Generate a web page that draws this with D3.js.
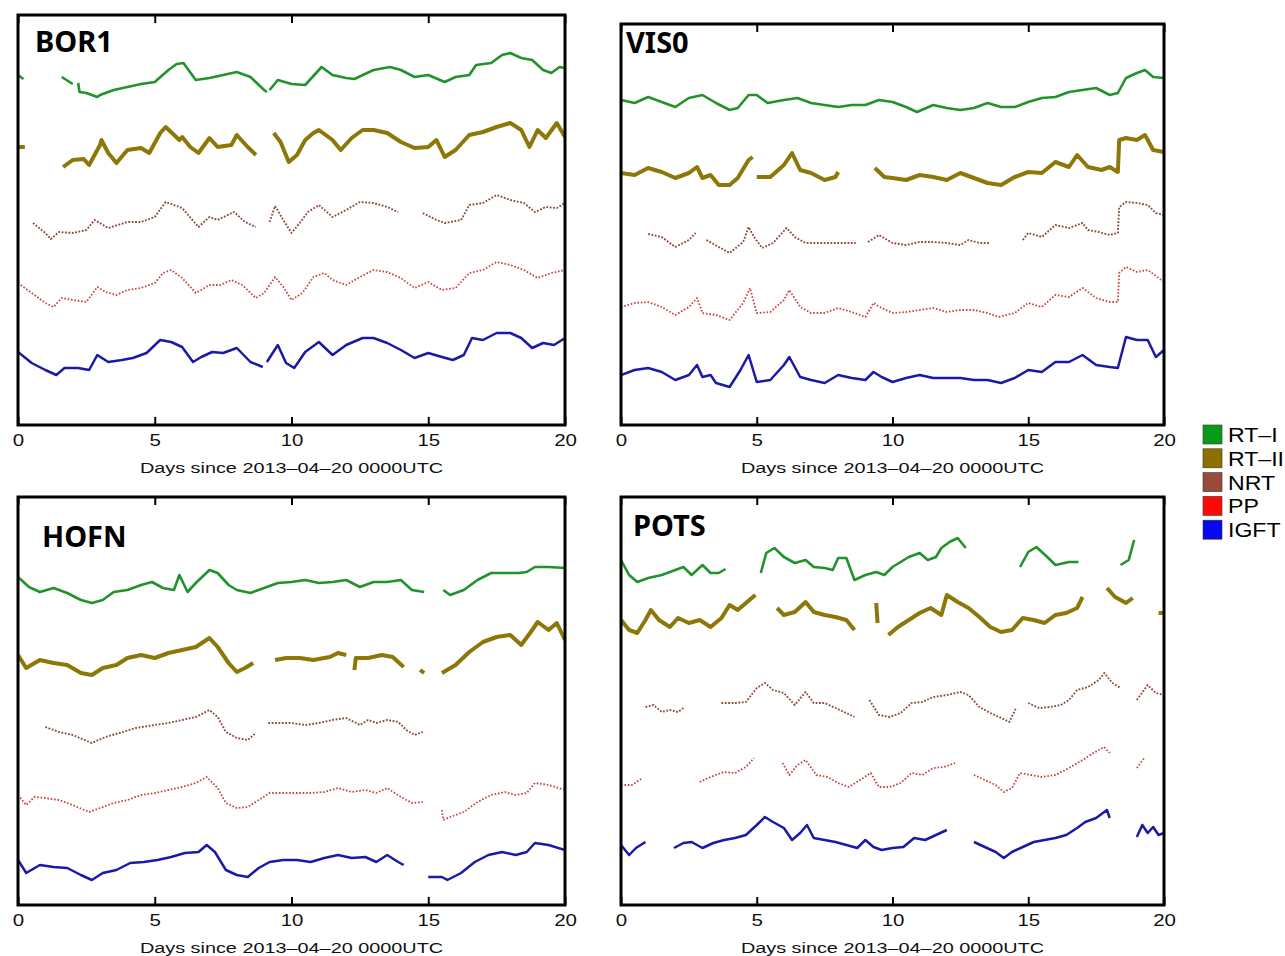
<!DOCTYPE html>
<html>
<head>
<meta charset="utf-8">
<script src="https://cdn.jsdelivr.net/npm/d3@7"></script>
<style>
  body { margin: 0; background: #fff; }
  svg { display: block; }
</style>
</head>
<body>
<div id="chart"></div>
<script>
// x tick labels (days) and product names
const dayTicks = [0, 5, 10, 15, 20];
const products = ["RT–I", "RT–II", "NRT", "PP", "IGFT"];
const stations = ["BOR1", "VIS0", "HOFN", "POTS"];

// each series: [day, stacked ZTD level], null = no data
const bor1RT1 = [[0,350],[0.2,346],[0.3,null],[1.6,348],[2.0,341],[2.1,null],[2.2,342],[2.25,333],[2.5,332],[2.9,328],[3.0,330],[3.5,335],[4.0,338],[4.5,341],[5.0,343],[5.5,355],[5.8,361],[6.05,362],[6.5,345],[7.0,347],[7.5,350],[8.0,353],[8.5,348],[9.0,335],[9.1,333],[9.15,null],[9.2,335],[9.5,345],[10.0,341],[10.5,340],[11.1,358],[11.5,350],[12.0,347],[12.3,346],[13.0,355],[13.6,358],[14.0,355],[14.5,348],[15.0,350],[15.6,343],[16.0,348],[16.5,350],[16.75,360],[17.3,362],[17.7,370],[18.0,372],[18.4,367],[18.8,365],[19.2,355],[19.5,352],[19.8,358],[20,357]];
const bor1RT2 = [[0,278],[0.25,278],[0.3,null],[1.65,258],[2.0,265],[2.4,266],[2.6,260],[3.0,280],[3.05,285],[3.3,272],[3.6,262],[4.0,275],[4.5,277],[4.8,272],[5.2,292],[5.4,298],[5.9,285],[6.0,288],[6.3,278],[6.6,272],[7.0,287],[7.3,278],[7.8,280],[8.0,290],[8.4,278],[8.7,270],[8.8,null],[9.35,292],[9.6,283],[9.9,263],[10.2,270],[10.5,285],[10.8,292],[11.0,295],[11.5,285],[11.8,275],[12.2,287],[12.6,295],[13.0,295],[13.5,292],[14.0,283],[14.5,277],[15.0,278],[15.3,285],[15.6,268],[16.0,275],[16.5,290],[17.0,293],[17.5,298],[18.0,302],[18.4,295],[18.7,278],[19.0,295],[19.3,287],[19.7,302],[20,288]];
const bor1NRT = [[0.55,202],[1.0,192],[1.2,186],[1.5,193],[2.0,192],[2.5,195],[2.8,205],[3.3,197],[4.0,203],[4.5,203],[5.0,208],[5.4,223],[6.0,217],[6.6,198],[7.0,208],[7.3,205],[7.9,213],[8.3,203],[8.7,198],[8.8,null],[9.2,203],[9.4,219],[9.7,205],[10.0,192],[10.3,202],[10.6,213],[11.0,220],[11.5,208],[12.0,215],[12.5,223],[13.0,222],[13.5,218],[13.9,213],[14.0,null],[14.3,205],[14.35,null],[14.8,212],[15.3,205],[15.6,202],[16.2,205],[16.5,220],[17.0,222],[17.5,230],[18.0,225],[18.5,222],[18.9,213],[19.3,218],[19.7,217],[20,222]];
const bor1PP = [[0,142],[0.5,132],[1.0,122],[1.3,118],[1.6,127],[2.0,125],[2.5,123],[2.9,138],[3.2,133],[3.6,130],[4.0,135],[4.5,137],[5.0,142],[5.3,152],[5.6,155],[6.0,147],[6.5,132],[7.0,140],[7.4,140],[7.8,145],[8.2,140],[8.7,127],[9.0,132],[9.4,148],[9.7,138],[10.0,125],[10.4,132],[10.8,148],[11.2,152],[11.5,145],[12.0,140],[12.5,148],[13.0,155],[13.5,153],[14.0,147],[14.5,137],[15.0,143],[15.5,135],[16.0,137],[16.5,152],[17.0,155],[17.5,163],[18.0,160],[18.5,155],[19.0,147],[19.5,152],[20,155]];
const bor1IGFT = [[0,73],[0.5,62],[1.0,55],[1.4,50],[1.7,57],[2.2,57],[2.6,55],[2.9,70],[3.3,63],[3.8,65],[4.2,67],[4.7,72],[5.2,85],[5.6,83],[6.0,78],[6.4,63],[6.7,68],[7.1,73],[7.5,72],[8.0,77],[8.5,63],[8.95,58],[9.0,null],[9.1,63],[9.5,80],[9.8,62],[10.1,57],[10.5,73],[11.0,83],[11.5,70],[12.0,80],[12.6,87],[13.0,87],[13.5,82],[14.0,75],[14.5,67],[15.0,72],[15.5,68],[15.9,65],[16.3,70],[16.6,87],[17.0,85],[17.5,92],[18.0,92],[18.4,87],[18.8,77],[19.2,82],[19.6,80],[20,87]];

const vis0RT1 = [[0,325],[0.5,322],[1.0,328],[1.5,323],[2.0,318],[2.5,327],[3.0,330],[3.5,322],[4.0,315],[4.3,317],[4.7,330],[5.0,330],[5.4,322],[6.0,325],[6.5,327],[7.0,322],[7.5,320],[8.0,318],[8.5,320],[9.0,320],[9.5,325],[10.0,323],[10.5,318],[10.9,313],[11.5,320],[12.0,317],[12.5,315],[13.0,317],[13.5,322],[14.0,318],[14.5,318],[15.0,323],[15.5,327],[16.0,328],[16.5,333],[17.0,335],[17.5,337],[18.0,330],[18.3,332],[18.6,347],[19.0,352],[19.3,355],[19.6,348],[20,347]];
const vis0RT2 = [[0,252],[0.5,250],[1.0,257],[1.5,253],[2.0,247],[2.5,252],[2.8,258],[3.0,247],[3.3,250],[3.6,240],[4.0,240],[4.3,247],[4.7,265],[4.85,268],[4.9,null],[5.0,248],[5.5,248],[6.0,260],[6.3,272],[6.6,255],[7.0,252],[7.5,245],[7.9,248],[8.0,253],[8.05,null],[9.35,257],[9.7,248],[10.0,247],[10.5,245],[11.0,250],[11.5,248],[12.0,245],[12.5,252],[13.0,247],[13.5,242],[14.0,240],[14.5,248],[15.0,253],[15.5,252],[16.0,263],[16.5,258],[16.8,270],[17.2,258],[17.7,255],[18.0,258],[18.3,253],[18.35,285],[18.6,287],[19.0,285],[19.3,290],[19.6,275],[20,273]];
const vis0NRT = [[1.0,191],[1.5,188],[2.0,178],[2.5,185],[2.75,192],[2.8,null],[3.15,185],[3.6,178],[4.0,172],[4.5,183],[4.7,198],[4.9,188],[5.2,177],[5.6,182],[6.1,197],[6.4,188],[6.8,182],[7.3,182],[7.8,182],[8.3,182],[8.65,182],[8.7,null],[9.1,183],[9.5,190],[10.0,182],[10.5,180],[11.0,183],[11.5,183],[12.0,182],[12.5,180],[12.8,185],[13.2,182],[13.6,182],[13.7,null],[13.8,175],[13.85,null],[14.3,182],[14.35,null],[14.8,185],[15.0,192],[15.5,188],[16.0,200],[16.5,197],[17.0,202],[17.2,195],[17.6,193],[18.0,190],[18.3,192],[18.35,218],[18.6,223],[19.0,222],[19.4,220],[19.7,212],[20,210]];
const vis0PP = [[0,118],[0.5,122],[1.0,123],[1.5,118],[2.0,110],[2.5,118],[2.8,127],[3.0,112],[3.5,110],[4.0,105],[4.5,122],[4.75,137],[5.0,112],[5.5,113],[6.0,125],[6.2,135],[6.6,118],[7.0,112],[7.5,112],[8.0,117],[8.5,113],[9.0,108],[9.3,122],[9.6,117],[10.0,112],[10.5,113],[11.0,115],[11.5,117],[12.0,113],[12.5,115],[13.0,115],[13.5,112],[13.9,108],[14.5,112],[15.0,122],[15.5,118],[16.0,130],[16.5,128],[17.0,137],[17.5,127],[18.0,123],[18.3,123],[18.35,152],[18.6,158],[19.0,153],[19.4,155],[20,143]];
const vis0IGFT = [[0,50],[0.5,55],[1.0,57],[1.5,53],[2.0,45],[2.5,50],[2.8,60],[3.0,48],[3.3,50],[3.5,42],[4.0,38],[4.4,55],[4.7,70],[5.0,43],[5.5,45],[6.0,60],[6.2,68],[6.6,48],[7.0,45],[7.5,42],[8.0,50],[8.5,47],[9.0,45],[9.3,53],[9.6,48],[10.0,43],[10.5,47],[11.0,50],[11.5,47],[12.0,47],[12.5,47],[13.0,45],[13.5,45],[14.0,42],[14.5,47],[15.0,55],[15.5,53],[16.0,63],[16.5,63],[17.0,70],[17.5,60],[18.0,58],[18.3,57],[18.6,88],[19.0,85],[19.4,85],[19.7,68],[20,75]];

const hofnRT1 = [[0,328],[0.4,318],[0.8,313],[1.3,317],[1.8,312],[2.3,305],[2.7,302],[3.1,305],[3.5,313],[4.0,315],[4.5,320],[4.9,323],[5.3,317],[5.7,315],[5.9,330],[6.2,313],[6.5,322],[7.0,335],[7.3,332],[7.7,320],[8.0,315],[8.5,312],[9.0,317],[9.5,322],[10.0,323],[10.5,325],[11.0,322],[11.5,323],[12.0,325],[12.5,318],[13.0,323],[13.5,323],[14.0,325],[14.4,315],[14.85,313],[14.9,null],[15.55,315],[15.8,310],[16.3,315],[16.8,325],[17.3,332],[17.8,332],[18.3,332],[18.6,333],[18.9,338],[19.4,338],[20,337]];
const hofnRT2 = [[0,250],[0.3,237],[0.8,245],[1.3,242],[1.8,240],[2.3,232],[2.7,230],[3.1,237],[3.6,240],[4.0,247],[4.5,250],[5.0,247],[5.5,252],[6.0,255],[6.5,258],[7.0,267],[7.3,258],[7.7,242],[8.0,233],[8.3,237],[8.6,242],[8.65,null],[9.4,245],[9.8,247],[10.3,247],[10.8,245],[11.4,248],[11.7,252],[12.0,250],[12.1,null],[12.3,235],[12.35,247],[12.8,247],[13.3,250],[13.7,248],[14.1,238],[14.15,null],[14.7,235],[14.85,232],[14.9,null],[15.5,232],[16.0,240],[16.5,253],[17.0,263],[17.5,268],[18.0,270],[18.4,260],[18.8,275],[19.0,283],[19.4,275],[19.7,282],[20,265]];
const hofnNRT = [[1.0,178],[1.5,173],[2.0,170],[2.7,162],[3.2,168],[3.7,172],[4.3,177],[5.0,180],[5.5,182],[6.0,185],[6.5,188],[7.0,195],[7.3,188],[7.6,173],[8.0,167],[8.4,165],[8.7,172],[8.75,null],[9.15,182],[9.6,182],[10.0,182],[10.5,180],[11.0,182],[11.5,185],[12.0,187],[12.5,180],[12.8,185],[13.1,182],[13.5,185],[13.9,183],[14.2,175],[14.5,170],[14.8,173]];
const hofnPP = [[0,110],[0.3,100],[0.6,108],[1.0,107],[1.5,105],[2.0,100],[2.6,93],[3.0,97],[3.5,102],[4.0,105],[4.5,110],[5.0,112],[5.5,115],[6.0,118],[6.5,122],[6.9,128],[7.3,117],[7.6,102],[8.0,97],[8.4,98],[8.8,105],[9.2,112],[9.7,112],[10.2,112],[10.7,112],[11.2,113],[11.7,117],[12.2,113],[12.7,115],[13.1,112],[13.5,117],[14.0,108],[14.4,102],[14.8,103],[14.85,null],[15.5,95],[15.55,85],[15.8,88],[16.3,93],[16.8,103],[17.3,110],[17.8,113],[18.2,110],[18.6,112],[18.9,122],[19.4,120],[20,115]];
const hofnIGFT = [[0,45],[0.3,32],[0.8,40],[1.3,38],[1.8,37],[2.3,30],[2.7,25],[3.1,32],[3.6,35],[4.1,42],[4.6,43],[5.1,45],[5.6,48],[6.1,52],[6.6,53],[6.9,60],[7.2,53],[7.6,35],[8.0,30],[8.4,28],[8.8,37],[9.2,43],[9.7,45],[10.2,45],[10.7,43],[11.2,47],[11.7,50],[12.2,47],[12.7,48],[13.1,43],[13.5,50],[13.9,43],[14.1,40],[14.15,null],[15.0,28],[15.5,28],[15.7,25],[16.2,32],[16.7,43],[17.2,50],[17.7,53],[18.2,50],[18.6,53],[18.9,62],[19.4,60],[20,55]];

const potsRT1 = [[0,345],[0.3,330],[0.6,323],[1.0,327],[1.5,330],[2.0,335],[2.3,338],[2.6,330],[3.0,340],[3.3,332],[3.6,332],[3.85,336],[3.9,null],[5.15,332],[5.35,352],[5.65,357],[6.0,348],[6.4,342],[6.8,345],[7.1,338],[7.5,337],[7.8,335],[8.0,347],[8.3,347],[8.6,325],[9.0,330],[9.4,333],[9.7,330],[10.0,338],[10.3,343],[10.6,348],[11.0,352],[11.3,345],[11.6,348],[11.8,357],[12.1,363],[12.4,367],[12.7,357],[12.75,null],[14.7,338],[15.0,353],[15.3,358],[15.7,348],[16.0,340],[16.5,343],[16.85,343],[16.9,null],[18.4,340],[18.7,345],[18.9,365]];
const potsRT2 = [[0,285],[0.3,275],[0.6,272],[0.9,285],[1.1,295],[1.4,285],[1.8,278],[2.1,287],[2.5,282],[2.9,285],[3.3,278],[3.7,287],[4.0,300],[4.3,295],[4.6,302],[4.95,310],[5.0,null],[5.75,297],[6.0,290],[6.4,293],[6.8,303],[7.1,293],[7.5,290],[7.9,288],[8.3,285],[8.6,275],[8.65,null],[9.4,302],[9.45,282],[9.5,null],[9.85,270],[10.2,278],[10.6,285],[11.0,292],[11.4,297],[11.8,290],[12.0,310],[12.4,303],[12.8,297],[13.2,288],[13.6,278],[14.0,273],[14.4,275],[14.8,287],[15.2,285],[15.6,282],[16.0,290],[16.4,292],[16.8,297],[17.0,308],[17.05,null],[17.9,317],[18.2,308],[18.6,302],[18.85,307],[18.9,null],[19.8,292],[20,292]];
const potsNRT = [[0.9,198],[1.2,200],[1.5,193],[1.8,195],[2.1,193],[2.3,197],[2.35,null],[3.7,202],[4.2,202],[4.6,203],[5.0,217],[5.3,222],[5.6,215],[6.0,212],[6.4,200],[6.8,213],[7.1,202],[7.5,202],[7.9,197],[8.3,192],[8.6,188],[8.65,null],[9.15,205],[9.5,190],[9.9,188],[10.3,192],[10.7,202],[11.1,203],[11.5,208],[12.0,210],[12.5,213],[12.8,210],[13.2,198],[13.6,192],[14.0,187],[14.3,183],[14.55,197],[14.6,null],[15.0,202],[15.4,197],[15.8,198],[16.2,200],[16.5,205],[16.8,215],[17.2,218],[17.6,225],[17.8,232],[18.1,222],[18.4,217],[18.45,null],[19.0,205],[19.4,220],[19.7,212],[20,210]];
const potsPP = [[0,120],[0.4,120],[0.8,127],[0.85,null],[2.0,128],[2.05,null],[2.9,123],[3.3,128],[3.8,133],[4.2,132],[4.6,138],[4.9,147],[4.95,null],[5.95,142],[6.2,130],[6.5,140],[6.8,145],[7.2,130],[7.6,128],[8.0,122],[8.4,118],[8.8,125],[9.2,132],[9.5,118],[9.9,118],[10.3,122],[10.7,132],[11.1,130],[11.5,137],[11.9,138],[12.3,142],[12.35,null],[13.0,130],[13.4,125],[13.8,120],[14.1,113],[14.4,117],[14.7,132],[15.1,130],[15.5,128],[16.0,130],[16.5,137],[17.0,145],[17.4,152],[17.8,158],[18.0,152],[18.05,null],[19.0,137],[19.3,148]];
const potsIGFT = [[0,60],[0.3,50],[0.55,57],[0.9,63],[0.95,null],[1.95,57],[2.3,62],[2.6,63],[3.0,57],[3.4,62],[3.8,65],[4.2,67],[4.6,70],[5.0,80],[5.3,88],[5.6,83],[6.0,77],[6.3,65],[6.6,72],[6.85,80],[7.1,67],[7.5,65],[7.9,63],[8.3,60],[8.7,57],[9.0,65],[9.3,58],[9.6,55],[10.0,57],[10.4,58],[10.8,67],[11.2,65],[11.6,70],[12.0,75],[12.05,null],[13.0,63],[13.4,58],[13.8,53],[14.1,47],[14.4,53],[14.8,58],[15.2,63],[15.6,65],[16.0,67],[16.4,70],[16.8,77],[17.1,83],[17.5,87],[17.9,95],[18.0,87],[18.05,null],[19.0,68],[19.2,80],[19.4,72],[19.6,78],[19.8,70],[20,72]];

// line looks per product
const colors = ["#22922a", "#8c7708", "#8e4a3c", "#c9413f", "#1a1aa6"];
const legendColors = ["#0a9a1a", "#8c7000", "#9a4a3c", "#ff0808", "#0808f0"];
const widths = [2.6, 4, 1.9, 1.8, 2.5];
const dashes = [null, null, "1.8 1.6", "1.6 1.8", null];

const panels = [
    { series: [bor1RT1, bor1RT2, bor1NRT, bor1PP, bor1IGFT], left: 18, right: 565, top: 15, bottom: 425, tx: 35, ty: 52 },
    { series: [vis0RT1, vis0RT2, vis0NRT, vis0PP, vis0IGFT], left: 621, right: 1164, top: 24, bottom: 425, tx: 626, ty: 53 },
    { series: [hofnRT1, hofnRT2, hofnNRT, hofnPP, hofnIGFT], left: 18, right: 565, top: 497, bottom: 905, tx: 42, ty: 547 },
    { series: [potsRT1, potsRT2, potsNRT, potsPP, potsIGFT], left: 621, right: 1164, top: 497, bottom: 905, tx: 633, ty: 536 }
];

const svg = d3.select("#chart")
    .append("svg")
        .attr("width", 1285)
        .attr("height", 956);

panels.forEach((p, i) => {

    const x = d3.scaleLinear()
        .domain([0, 20])
        .range([p.left, p.right]);

    const y = d3.scaleLinear()
        .domain([0, p.bottom - p.top])
        .range([p.bottom, p.top]);

    const g = svg.append("g");

    g.append("clipPath")
        .attr("id", `clip${i}`)
        .append("rect")
            .attr("x", p.left)
            .attr("y", p.top)
            .attr("width", p.right - p.left)
            .attr("height", p.bottom - p.top);

    const line = d3.line()
        .defined(d => d[1] != null)
        .x(d => x(d[0]))
        .y(d => y(d[1]));

    g.append("g")
        .attr("clip-path", `url(#clip${i})`)
        .selectAll("path")
        .data(p.series)
        .enter()
        .append("path")
            .attr("fill", "none")
            .attr("stroke", (d, k) => colors[k])
            .attr("stroke-width", (d, k) => widths[k])
            .attr("stroke-dasharray", (d, k) => dashes[k])
            .attr("stroke-linejoin", "round")
            .attr("d", line);

    // inward ticks, bottom with labels, top without
    const bottomAxis = g.append("g")
        .attr("transform", `translate(0,${p.bottom})`)
        .call(d3.axisBottom(x).tickValues(dayTicks).tickSize(-8).tickPadding(10));
    const topAxis = g.append("g")
        .attr("transform", `translate(0,${p.top})`)
        .call(d3.axisTop(x).tickValues(dayTicks).tickSize(-8).tickFormat(""));

    [bottomAxis, topAxis].forEach(a => {
        a.select(".domain").remove();
        a.selectAll("line").attr("stroke", "#000").attr("stroke-width", 2);
    });
    bottomAxis.selectAll("text")
        .attr("font-family", "Liberation Sans, Arial, sans-serif")
        .attr("font-size", 16)
        .attr("fill", "#111")
        .attr("transform", "scale(1.28,1)");

    g.append("rect")
        .attr("x", p.left)
        .attr("y", p.top)
        .attr("width", p.right - p.left)
        .attr("height", p.bottom - p.top)
        .attr("fill", "none")
        .attr("stroke", "#000")
        .attr("stroke-width", 3);

    g.append("text")
        .attr("transform", `translate(${(p.left + p.right) / 2},${p.bottom + 47.5}) scale(1.28,1)`)
        .attr("text-anchor", "middle")
        .attr("font-family", "Liberation Sans, Arial, sans-serif")
        .attr("font-size", 15.5)
        .attr("fill", "#111")
        .text("Days since 2013–04–20 0000UTC");

    g.append("text")
        .attr("x", p.tx)
        .attr("y", p.ty)
        .attr("font-family", "Noto Sans, sans-serif")
        .attr("font-weight", "bold")
        .attr("font-size", 29)
        .attr("fill", "#000")
        .text(stations[i]);
});

const legend = svg.append("g")
    .attr("transform", "translate(1203,425)");

const items = legend.selectAll("g")
    .data(products)
    .enter()
    .append("g")
        .attr("transform", (d, k) => `translate(0,${k * 23.8})`);

items.append("rect")
    .attr("width", 19)
    .attr("height", 19)
    .attr("fill", (d, k) => legendColors[k])
    .attr("stroke", "#333")
    .attr("stroke-width", 0.6);

items.append("text")
    .attr("transform", "translate(25,17) scale(1.1,1)")
    .attr("font-family", "Liberation Sans, Arial, sans-serif")
    .attr("font-size", 21)
    .attr("fill", "#000")
    .text(d => d);
</script>
</body>
</html>
